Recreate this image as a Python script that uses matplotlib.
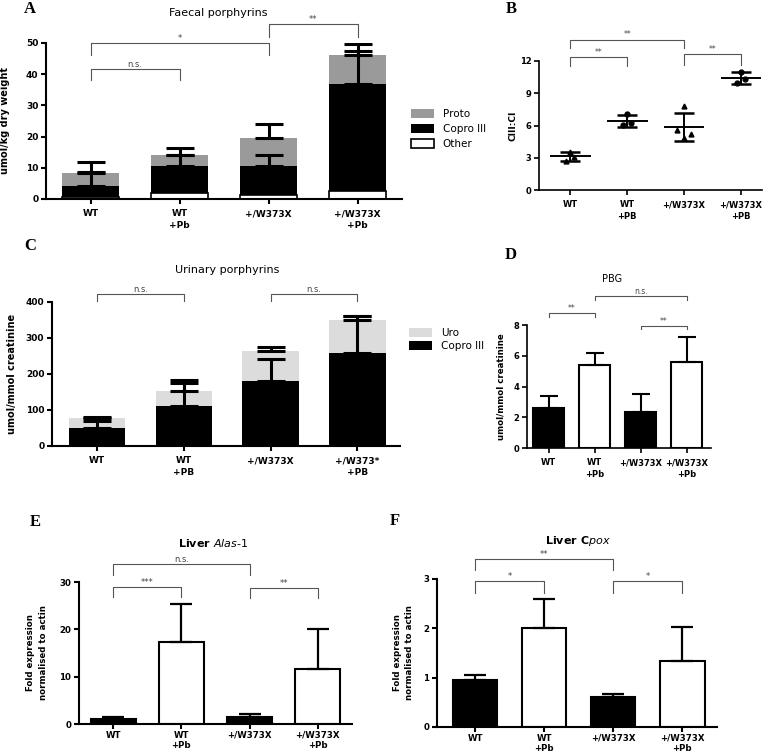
import matplotlib
matplotlib.use('Agg')
import matplotlib.pyplot as plt
import numpy as np

plt.rcParams['font.family'] = ['DejaVu Sans']
plt.rcParams['mathtext.fontset'] = 'dejavusans'

# ---------------- data ----------------
cats_A = ['WT', 'WT\n+Pb', '+/W373X', '+/W373X\n+Pb']
faecal_other = [0.5, 2.0, 1.2, 2.5]
faecal_copro = [3.7, 8.5, 9.5, 34.5]
faecal_proto = [4.1, 3.5, 8.8, 9.0]
faecal_copro_err = [4.4, 3.5, 3.5, 10.5]
faecal_proto_err = [3.7, 2.2, 4.5, 3.8]

cats_B = ['WT', 'WT\n+PB', '+/W373X', '+/W373X\n+PB']
ratio_pts = [[2.73, 3.57, 3.04], [7.07, 6.05, 6.2], [7.8, 5.58, 4.8, 5.2], [11.0, 9.92, 10.3]]
ratio_mean = [3.15, 6.44, 5.85, 10.4]
ratio_sd = [0.42, 0.55, 1.3, 0.55]

cats_C = ['WT', 'WT\n+PB', '+/W373X', '+/W373*\n+PB']
urine_copro = [50, 112, 181, 257]
urine_uro = [27, 41, 84, 92]
urine_copro_err = [20, 62, 61, 104]
urine_uro_err = [3, 30, 11, 12]

cats_D = ['WT', 'WT\n+Pb', '+/W373X', '+/W373X\n+Pb']
pbg_mean = [2.6, 5.4, 2.37, 5.62]
pbg_err = [0.75, 0.8, 1.15, 1.62]

cats_E = ['WT', 'WT\n+Pb', '+/W373X', '+/W373X\n+Pb']
alas_mean = [1.0, 17.3, 1.5, 11.7]
alas_err = [0.4, 8.1, 0.7, 8.4]

cats_F = ['WT', 'WT\n+Pb', '+/W373X', '+/W373X\n+Pb']
cpox_mean = [0.95, 2.0, 0.6, 1.34]
cpox_err = [0.11, 0.6, 0.06, 0.69]

W, H = 774, 755
fig = plt.figure(figsize=(W / 100, H / 100), dpi=100)


def add_ax(left, right, top, bottom):
    return fig.add_axes([left / W, 1 - bottom / H, (right - left) / W, (bottom - top) / H])


def style(ax, cats, ticks, lw=1.5, fs=6.5, xpad=4, ls=1.3):
    for s in ['top', 'right']:
        ax.spines[s].set_visible(False)
    for s in ['left', 'bottom']:
        ax.spines[s].set_linewidth(lw)
    ax.set_xticks(range(len(cats)))
    ax.set_xticklabels(cats, fontsize=fs, fontweight='bold', linespacing=ls)
    ax.set_yticks(ticks)
    ax.set_yticklabels([str(t) for t in ticks], fontsize=fs, fontweight='bold')
    ax.tick_params(axis='both', width=lw, length=3.5, pad=2)
    ax.tick_params(axis='x', pad=xpad)
    ax.set_ylim(ticks[0], ticks[-1])


def bracket(ax, x1, x2, y, yleg, label, fs=6, color='#555555'):
    ax.plot([x1, x1, x2, x2], [yleg, y, y, yleg], color=color, lw=0.8, clip_on=False)
    ax.text((x1 + x2) / 2, y, label, ha='center', va='bottom', fontsize=fs, color='#444444', clip_on=False)


def letter(px, py, s):
    fig.text(px / W, 1 - py / H, s, fontsize=12, fontweight='bold', family='Liberation Serif',
             ha='center', va='center')


def title(px, py, s, **kw):
    fig.text(px / W, 1 - py / H, s, ha='center', va='center', **kw)


x = np.arange(4)

# ---------------- A ----------------
axA = add_ax(46, 402, 43, 199)
bw = 0.65
axA.bar(x, faecal_other, bw, color='white', edgecolor='black', lw=1.2, label='Other')
axA.bar(x, faecal_copro, bw, bottom=faecal_other, color='black', label='Copro III')
cop_top = np.array(faecal_other) + np.array(faecal_copro)
axA.bar(x, faecal_proto, bw, bottom=cop_top, color='#9a9a9a', label='Proto')
tot = cop_top + np.array(faecal_proto)
axA.errorbar(x, cop_top, yerr=[np.zeros(4), faecal_copro_err], fmt='none', ecolor='black', elinewidth=2.2, capsize=10, capthick=2.2)
axA.errorbar(x, tot, yerr=[np.zeros(4), faecal_proto_err], fmt='none', ecolor='black', elinewidth=2.2, capsize=10, capthick=2.2)
axA.set_xlim(-0.5, 3.5)
style(axA, cats_A, [0, 10, 20, 30, 40, 50])
axA.set_ylabel('umol/kg dry weight', fontsize=7, fontweight='bold')
axA.yaxis.set_label_coords(-0.1, 0.5)
h, l = axA.get_legend_handles_labels()
axA.legend(h[::-1], l[::-1], loc='center left', bbox_to_anchor=(1.0, 0.45), frameon=False,
           fontsize=7.5, handlelength=2.2, handleheight=1.0, handletextpad=0.8, labelspacing=0.45)
bracket(axA, 0, 1, 41.7, 38, 'n.s.')
bracket(axA, 0, 2, 50, 46, '*')
bracket(axA, 2, 3, 56, 52, '**')
title(218, 13, 'Faecal porphyrins', fontsize=8)
letter(30, 9, 'A')

# ---------------- B ----------------
axB = add_ax(539, 762, 61, 190)
offs3 = [[-0.07, 0.0, 0.07], [0.0, -0.07, 0.07], [0.0, -0.12, 0.0, 0.12], [0.0, -0.07, 0.07]]
markers = ['^', 'o', '^', 'o']
for i, pts in enumerate(ratio_pts):
    axB.plot(np.array(offs3[i]) + i, pts, ls='none', marker=markers[i], color='black', ms=3.5, clip_on=False, zorder=3)
    axB.plot([i - 0.34, i + 0.34], [ratio_mean[i]] * 2, color='black', lw=1.4)
axB.errorbar(x, ratio_mean, yerr=ratio_sd, fmt='none', ecolor='black', elinewidth=1.4, capsize=7, capthick=1.8)
axB.set_xlim(-0.55, 3.37)
style(axB, cats_B, [0, 3, 6, 9, 12], lw=1.2, fs=6)
axB.set_ylabel('CIII:CI', fontsize=6.5, fontweight='bold')
axB.yaxis.set_label_coords(-0.095, 0.5)
bracket(axB, 0, 1, 12.4, 11.5, '**', fs=5.5)
bracket(axB, 0, 2, 14.0, 13.2, '**', fs=5.5)
bracket(axB, 2, 3, 12.65, 11.6, '**', fs=5.5)
letter(511, 9, 'B')

# ---------------- C ----------------
axC = add_ax(52, 400, 302, 446)
axC.bar(x, urine_copro, bw, color='black', label='Copro III')
axC.bar(x, urine_uro, bw, bottom=urine_copro, color='#dcdcdc', label='Uro')
ctot = np.array(urine_copro) + np.array(urine_uro)
axC.errorbar(x, urine_copro, yerr=[np.zeros(4), urine_copro_err], fmt='none', ecolor='black', elinewidth=2.2, capsize=10, capthick=2.2)
axC.errorbar(x, ctot, yerr=[np.zeros(4), urine_uro_err], fmt='none', ecolor='black', elinewidth=2.2, capsize=10, capthick=2.2)
axC.set_xlim(-0.52, 3.49)
style(axC, cats_C, [0, 100, 200, 300, 400])
axC.set_ylabel('umol/mmol creatinine', fontsize=7, fontweight='bold')
axC.yaxis.set_label_coords(-0.1, 0.5)
h, l = axC.get_legend_handles_labels()
axC.legend(h[::-1], l[::-1], loc='center left', bbox_to_anchor=(1.0, 0.74), frameon=False,
           fontsize=7.5, handlelength=2.2, handleheight=1.0, handletextpad=0.8, labelspacing=0.3)
bracket(axC, 0, 1, 422, 403, 'n.s.')
bracket(axC, 2, 3, 422, 403, 'n.s.')
title(227, 270, 'Urinary porphyrins', fontsize=8)
letter(30, 246, 'C')

# ---------------- D ----------------
axD = add_ax(527, 711, 325, 448)
colsD = ['black', 'white', 'black', 'white']
axD.bar(x, pbg_mean, 0.67, color=colsD, edgecolor='black', lw=1.5)
axD.errorbar(x, pbg_mean, yerr=[np.zeros(4), pbg_err], fmt='none', ecolor='black', elinewidth=1.5, capsize=6.5, capthick=1.5)
axD.set_xlim(-0.47, 3.53)
style(axD, cats_D, [0, 2, 4, 6, 8], lw=1.2, fs=6)
axD.set_ylabel('umol/mmol creatinine', fontsize=6.2, fontweight='bold')
axD.yaxis.set_label_coords(-0.115, 0.5)
bracket(axD, 0, 1, 8.8, 8.55, '**', fs=5.5)
bracket(axD, 1, 3, 9.9, 9.6, 'n.s.', fs=5.5)
bracket(axD, 2, 3, 7.93, 7.72, '**', fs=5.5)
title(612, 279, 'PBG', fontsize=7)
letter(511, 255, 'D')

# ---------------- E ----------------
axE = add_ax(79, 352, 582, 724)
axE.bar(x, alas_mean, 0.66, color=colsD, edgecolor='black', lw=1.5)
axE.errorbar(x, alas_mean, yerr=[np.zeros(4), alas_err], fmt='none', ecolor='black', elinewidth=1.6, capsize=8, capthick=1.6)
axE.set_xlim(-0.5, 3.5)
style(axE, cats_E, [0, 10, 20, 30], fs=6.2, xpad=1.5, ls=1.15)
axE.set_ylabel('Fold expression\nnormalised to actin', fontsize=6.2, fontweight='bold', linespacing=1.5)
axE.yaxis.set_label_coords(-0.115, 0.5)
bracket(axE, 0, 2, 33.8, 31.5, 'n.s.')
bracket(axE, 0, 1, 29, 26.9, '***')
bracket(axE, 2, 3, 28.7, 26.6, '**')
fig.text(213 / W, 1 - 543 / H, r'Liver $\boldsymbol{\mathit{Alas\text{-}1}}$', ha='center', va='center', fontsize=8, fontweight='bold')
letter(35, 522, 'E')

# ---------------- F ----------------
axF = add_ax(437, 717, 579, 727)
axF.bar(x, cpox_mean, 0.64, color=colsD, edgecolor='black', lw=1.5)
axF.errorbar(x, cpox_mean, yerr=[np.zeros(4), cpox_err], fmt='none', ecolor='black', elinewidth=1.6, capsize=8, capthick=1.6)
axF.set_xlim(-0.55, 3.5)
style(axF, cats_F, [0, 1, 2, 3], fs=6.2, xpad=1.5, ls=1.15)
axF.set_ylabel('Fold expression\nnormalised to actin', fontsize=6.2, fontweight='bold', linespacing=1.5)
axF.yaxis.set_label_coords(-0.082, 0.5)
bracket(axF, 0, 2, 3.4, 3.18, '**')
bracket(axF, 0, 1, 2.95, 2.72, '*')
bracket(axF, 2, 3, 2.95, 2.72, '*')
fig.text(578 / W, 1 - 541 / H, r'Liver C$\boldsymbol{\mathit{pox}}$', ha='center', va='center', fontsize=8, fontweight='bold')
letter(395, 521, 'F')

fig.savefig('out.png', dpi=100)
